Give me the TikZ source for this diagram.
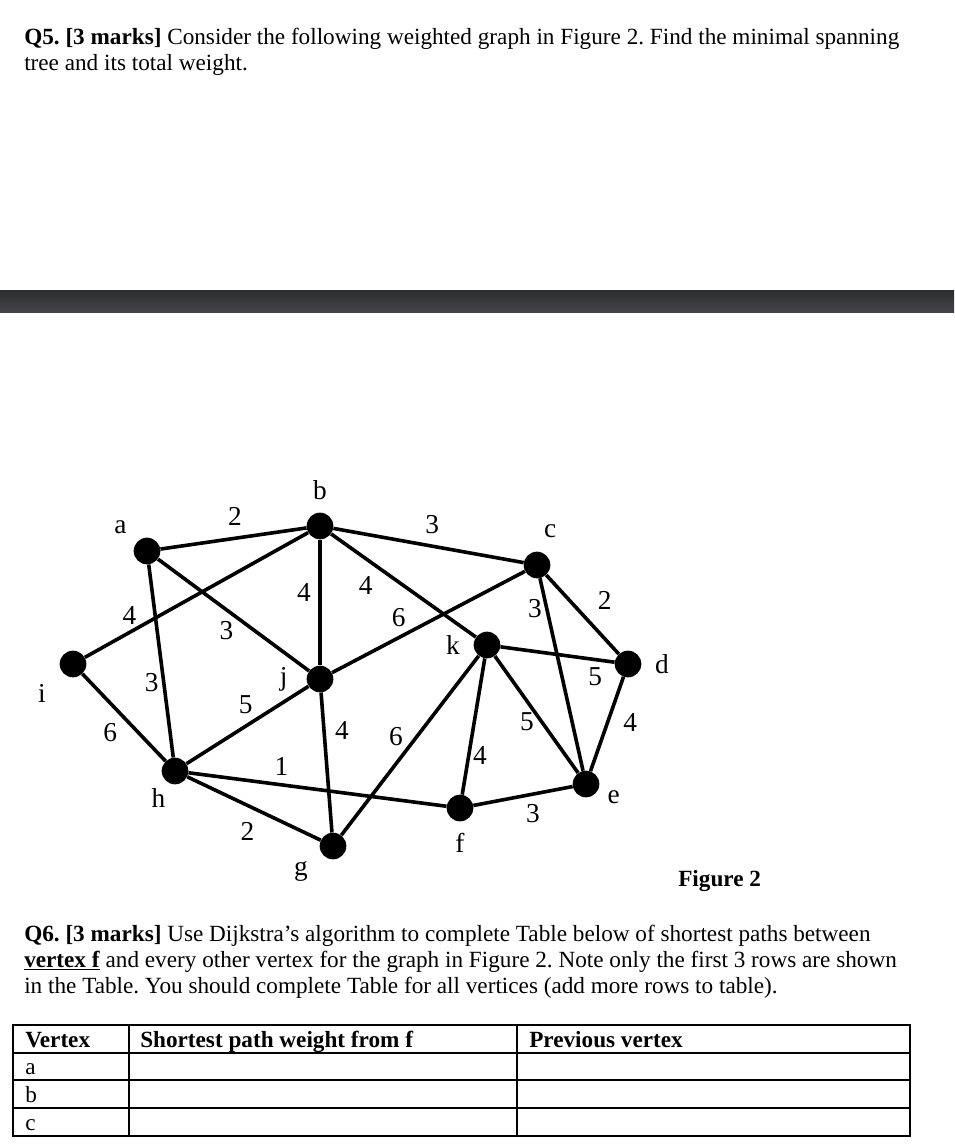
\documentclass[tikz,border=0pt]{standalone}
\usepackage{fontspec}
\setmainfont{Liberation Serif}
\usetikzlibrary{positioning}
\definecolor{bartop}{RGB}{44,45,49}
\definecolor{barmid}{RGB}{82,86,91}
\definecolor{barbot}{RGB}{66,68,72}
\newcommand{\qfont}{\fontsize{17.4}{20}\selectfont}
\newcommand{\gfont}{\fontsize{20.5}{20.5}\selectfont}
\frenchspacing

\begin{document}
\begin{tikzpicture}[x=0.75pt, y=-0.75pt,
  txt/.style={anchor=base west, inner sep=0pt, font=\qfont},
  bold/.style={txt, font=\qfont\bfseries},
  vtx/.style={circle, fill=black, minimum size=20pt, inner sep=0pt},
  vname/.style={font=\gfont, inner sep=2pt},
  link/.style={line width=2.7pt},
  wt/.style={font=\gfont, inner sep=4.5pt},
  tabline/.style={line width=1.3pt}]
\useasboundingbox (0,0) rectangle (954,1148);

% question 5
\node[txt] (q5a) at (24,45) {\textbf{Q5. [3 marks]} Consider the following weighted graph in Figure 2. Find the minimal spanning};
\node[txt] (q5b) at (24,71) {tree and its total weight.};

% separator bar
\shade[top color=bartop, middle color=barmid, bottom color=barbot] (0,290) rectangle (954,312);

% vertices
\node[vtx, label={[vname,label distance=7pt]140:a}] (a) at (147,551) {};
\node[vtx, label={[vname,label distance=7pt]above:b}] (b) at (320,526) {};
\node[vtx, label={[vname,label distance=8pt]80:c}] (c) at (537,565) {};
\node[vtx, label={[vname,label distance=8pt]left:k}] (k) at (487,645) {};
\node[vtx, label={[vname,label distance=8pt]right:d}] (d) at (628,664) {};
\node[vtx, label={[vname,label distance=12pt]215:i}] (i) at (73,664) {};
\node[vtx, label={[vname,label distance=12pt]left:j}] (j) at (320,679) {};
\node[vtx, label={[vname,label distance=2pt]245:h}] (h) at (175,771) {};
\node[vtx, label={[vname,label distance=9pt]210:g}] (g) at (333,846) {};
\node[vtx, label={[vname,label distance=6.5pt]below:f}] (f) at (460,808) {};
\node[vtx, label={[vname,label distance=4pt]-10:e}] (e) at (586,784) {};

% weighted edges
\draw[link] (a) -- node[wt,pos=.51,above=4pt] (wab) {2} (b);
\draw[link] (b) -- node[wt,pos=.52,above=3.5pt] (wbc) {3} (c);
\draw[link] (b) -- node[wt,pos=.8,above] (wbi) {4} (i);
\draw[link] (a) -- node[wt,pos=.52,below left,xshift=3.5pt,yshift=3pt] (waj) {3} (j);
\draw[link] (a) -- node[wt,pos=.61,left,xshift=2pt] (wah) {3} (h);
\draw[link] (i) -- node[wt,pos=.51,below left,yshift=2pt] (wih) {6} (h);
\draw[link] (b) -- node[wt,pos=.42,left=1pt] (wbj) {4} (j);
\draw[link] (b) -- node[wt,pos=.34,below left] (wbk) {4} (k);
\draw[link] (j) -- node[wt,pos=.38,above,xshift=-5pt] (wjc) {6} (c);
\draw[link] (h) -- node[wt,pos=.55,above,xshift=-6pt] (whj) {5} (j);
\draw[link] (j) -- node[wt,pos=.27,right=2.5pt] (wjg) {4} (g);
\draw[link] (g) -- node[wt,pos=.49,above left,xshift=1.5pt,yshift=-5pt] (wgk) {6} (k);
\draw[link] (h) -- node[wt,pos=.36,above=1pt] (whf) {1} (f);
\draw[link] (h) -- node[wt,pos=.53,below left,xshift=3pt,yshift=-3pt] (whg) {2} (g);
\draw[link] (k) -- node[wt,pos=.71,right=-2.5pt] (wkf) {4} (f);
\draw[link] (k) -- node[wt,pos=.56,left] (wke) {5} (e);
\draw[link] (c) -- node[wt,pos=.16,left=-2pt] (wce) {3} (e);
\draw[link] (c) -- node[wt,pos=.55,above right,xshift=3pt,yshift=1pt] (wcd) {2} (d);
\draw[link] (k) -- node[wt,pos=.83,below] (wkd) {5} (d);
\draw[link] (d) -- node[wt,pos=.48,right=6pt] (wde) {4} (e);
\draw[link] (f) -- node[wt,pos=.6,below=1.5pt] (wfe) {3} (e);

\node[bold] (fig) at (678,886) {Figure 2};

% question 6
\node[txt] (q6a) at (24,941) {\textbf{Q6. [3 marks]} Use Dijkstra’s algorithm to complete Table below of shortest paths between};
\node[txt] (q6b) at (24,967) {\underline{\textbf{vertex f}} and every other vertex for the graph in Figure 2. Note only the first 3 rows are shown};
\node[txt] (q6c) at (24,993) {in the Table. You should complete Table for all vertices (add more rows to table).};

% table
\draw[tabline] (13,1025) rectangle (910,1136);
\foreach \yy in {1053,1080,1108} \draw[tabline] (13,\yy) -- (910,\yy);
\foreach \xx in {129,517} \draw[tabline] (\xx,1025) -- (\xx,1136);
\node[bold] (hv) at (25,1047) {Vertex};
\node[bold] (hs) at (140,1047) {Shortest path weight from f};
\node[bold] (hp) at (529,1047) {Previous vertex};
\foreach \v/\yy in {a/1074,b/1102,c/1130}
  \node[txt] (r\v) at (25,\yy) {\v};
\end{tikzpicture}
\end{document}
